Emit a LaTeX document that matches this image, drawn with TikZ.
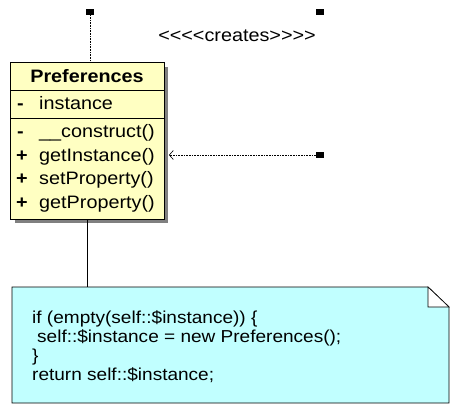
\documentclass[tikz,border=0pt]{standalone}
\usepackage{fontspec}
\setmainfont[FakeStretch=1.1]{Liberation Sans}
\usetikzlibrary{arrows.meta}
\definecolor{clsfill}{RGB}{255,255,194}
\definecolor{notefill}{RGB}{193,255,255}
\definecolor{shadowgray}{RGB}{128,128,128}
\begin{document}
\begin{tikzpicture}[x=1pt,y=-1pt,
  txt/.style={font=\fontsize{18}{20}\selectfont, inner sep=0pt, anchor=base west},
  vis/.style={txt, font=\fontsize{18}{20}\selectfont\bfseries},
  notetxt/.style={txt, font=\fontsize{17.3}{20}\selectfont},
  handle/.style={fill=black, minimum width=8pt, minimum height=6pt, inner sep=0pt},
  dep/.style={densely dotted, line width=0.6pt},
  sep/.style={line width=0.9pt}]
\useasboundingbox (0,0) rectangle (458,415);
% shadow + class box
\fill[shadowgray] (15,67) rectangle (168,223);
\node[draw, fill=clsfill, line width=0.9pt, minimum width=154pt, minimum height=157pt,
      inner sep=0pt, anchor=north west] (cls) at (10,62) {};
\draw[sep] (cls.west |- 0,90) -- (cls.east |- 0,90);
\draw[sep] (cls.west |- 0,118) -- (cls.east |- 0,118);
\node[txt, anchor=base, font=\fontsize{18}{20}\selectfont\bfseries] (title) at (87,82) {Preferences};
\node[vis] (v1) at (17,109.5) {-};
\node[txt] (a1) at (39,109.5) {instance};
\node[vis] (v2) at (17,137.5) {-};
\node[txt] (o1) at (39,137.5) {\_\_construct()};
\node[vis] (v3) at (16,161) {+};
\node[txt] (o2) at (39,161) {getInstance()};
\node[vis] (v4) at (16,184.5) {+};
\node[txt] (o3) at (39,184.5) {setProperty()};
\node[vis] (v5) at (16,208.5) {+};
\node[txt] (o4) at (39,208.5) {getProperty()};
% handles and label
\node[handle] (m1) at (90,12) {};
\node[handle] (m2) at (320,12) {};
\node[handle] (m3) at (320,155) {};
\node[txt, anchor=center] (lbl) at (237,36) {<{}<{}<{}<creates>{}>{}>{}>};
% connectors
\draw[dep] (m1) -- (m1 |- cls.north);
\draw[dep, -{Straight Barb[length=4pt,width=9pt,line width=0.6pt]}] (m3.west) -- ([xshift=4pt]cls.east |- m3);
% note
\coordinate (note) at (88,287);
\draw[line width=1.8pt] (cls.south) -- (cls.south |- note);
\filldraw[fill=notefill, line width=0.9pt] (12,287) -- (428,287) -- (449,307) -- (449,403) -- (12,403) -- cycle;
\filldraw[fill=white, line width=0.6pt] (428,287) -- (428,307) -- (449,307) -- cycle;
\node[notetxt] (n1) at (32,323.5) {if (empty(self::\$instance)) \{};
\node[notetxt] (n2) at (37,342.5) {self::\$instance = new Preferences();};
\node[notetxt] (n3) at (32,361.5) {\}};
\node[notetxt] (n4) at (32,380.5) {return self::\$instance;};
\end{tikzpicture}
\end{document}
